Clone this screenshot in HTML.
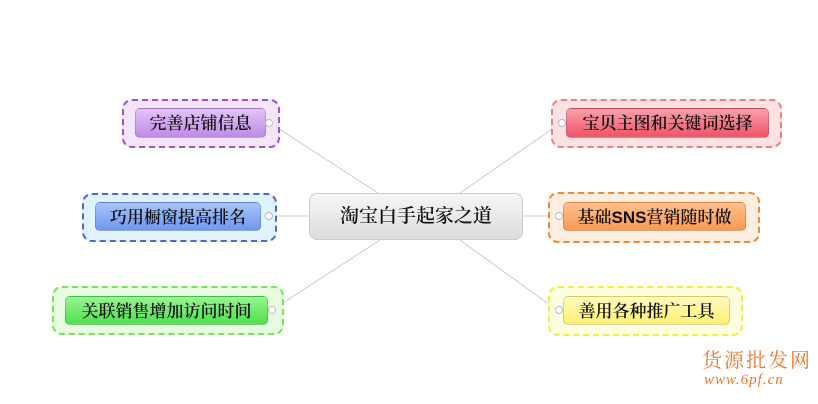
<!DOCTYPE html>
<html><head><meta charset="utf-8"><style>
body{margin:0;width:818px;height:404px;background:#fff;overflow:hidden;position:relative;font-family:"Liberation Serif","Noto Serif CJK SC",serif}
.o{position:absolute;border:2px dashed;border-radius:10px;box-sizing:border-box}
.i{position:absolute;border-radius:5px;box-sizing:border-box;font-size:17px;color:#111;text-align:center;line-height:29px;border:1px solid rgba(0,0,0,.15);font-weight:600}
svg{position:absolute;left:0;top:0}
.d{position:absolute;width:6px;height:6px;border:1px solid #bbb;border-radius:50%;background:#fff}
</style></head><body>
<svg width="818" height="404">
<g stroke="#ccc" stroke-width="1" fill="none">
<line x1="270" y1="123" x2="378" y2="193"/>
<line x1="270" y1="216" x2="309" y2="216"/>
<line x1="272" y1="310" x2="380" y2="240"/>
<line x1="561" y1="123" x2="460" y2="193"/>
<line x1="558" y1="216" x2="523" y2="216"/>
<line x1="557" y1="310" x2="460" y2="240"/>
</g></svg>
<div class="o" style="left:122px;top:99px;width:158px;height:49px;border-color:#a050d8;background:#f3e6fa"></div>
<div class="i" style="left:135px;top:108px;width:131px;height:30px;background:linear-gradient(#e2c4f6,#c08ae8)">完善店铺信息</div>
<div class="o" style="left:82px;top:193px;width:195px;height:49px;border-color:#4a6ad0;background:#dff2fd"></div>
<div class="i" style="left:95px;top:202px;width:166px;height:29px;background:linear-gradient(#a8c4fb,#6e98f0)">巧用橱窗提高排名</div>
<div class="o" style="left:52px;top:286px;width:232px;height:49px;border-color:#7ee060;background:#e6fbdf"></div>
<div class="i" style="left:65px;top:296px;width:203px;height:29px;background:linear-gradient(#98f490,#4ee050)">关联销售增加访问时间</div>
<div class="o" style="left:551px;top:99px;width:231px;height:49px;border-color:#f08080;background:#fde2e4"></div>
<div class="i" style="left:566px;top:108px;width:203px;height:30px;background:linear-gradient(#f9a0ac,#ee5468)">宝贝主图和关键词选择</div>
<div class="o" style="left:548px;top:192px;width:212px;height:51px;border-color:#ec8a3a;background:#fdeee0"></div>
<div class="i" style="left:563px;top:202px;width:183px;height:29px;background:linear-gradient(#ffc090,#f89a50)">基础<b style="font-family:'Liberation Sans',sans-serif">SNS</b>营销随时做</div>
<div class="o" style="left:548px;top:286px;width:195px;height:50px;border-color:#f0f040;background:#fdfde0"></div>
<div class="i" style="left:563px;top:296px;width:167px;height:29px;background:linear-gradient(#fffac0,#fff070)">善用各种推广工具</div>
<div class="i" style="left:309px;top:193px;width:214px;height:47px;line-height:45px;font-size:19px;border-radius:8px;background:linear-gradient(#f6f6f6,#dcdcdc);border-color:#ccc">淘宝白手起家之道</div>
<div style="position:absolute;left:702px;top:344px;font-size:20px;color:#f07830;letter-spacing:2px">货源批发网</div>
<div style="position:absolute;left:704px;top:372px;font-size:15px;color:#f07830;font-style:italic;letter-spacing:1px">www.6pf.cn</div>
<div class="d" style="left:265px;top:119px"></div>
<div class="d" style="left:265px;top:212px"></div>
<div class="d" style="left:268px;top:306px"></div>
<div class="d" style="left:558px;top:119px"></div>
<div class="d" style="left:555px;top:212px"></div>
<div class="d" style="left:555px;top:306px"></div>
</body></html>
